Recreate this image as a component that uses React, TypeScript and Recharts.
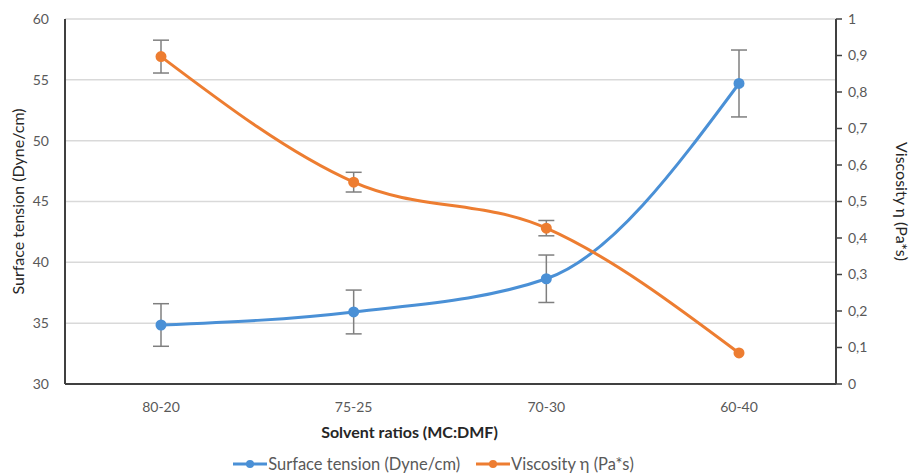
import {
  LineChart, Line, XAxis, YAxis, CartesianGrid,
  ErrorBar, Legend, Label,
} from 'recharts'

const ratios        = ['80-20', '75-25', '70-30', '60-40']
const tension       = [34.85, 35.92, 38.65, 54.7]
const tensionErr    = [1.75, 1.8, 1.95, 2.75]
const viscosity     = [0.897, 0.553, 0.427, 0.085]
const viscosityErr  = [0.045, 0.027, 0.021, 0]
const leftTicks     = [30, 35, 40, 45, 50, 55, 60]
const rightTicks    = [0, 0.1, 0.2, 0.3, 0.4, 0.5, 0.6, 0.7, 0.8, 0.9, 1]

const BLUE   = '#4a90d6'
const ORANGE = '#ed7d31'
const TEXT   = '#595959'
const FONT   = 'Lato, "Open Sans", sans-serif'

const seriesNames = ['Surface tension (Dyne/cm)', 'Viscosity η (Pa*s)']

const data = ratios.map((r, i) => ({
  ratio:   r,
  tension: tension[i],
  tErr:    tensionErr[i],
  visc:    viscosity[i],
  vErr:    viscosityErr[i],
}))

function ChartLegend() {
  const colors = [BLUE, ORANGE]
  return (
    <div style={{ display: 'flex', justifyContent: 'center', gap: 16, fontFamily: FONT, fontSize: 16.5, color: TEXT, marginLeft: -50 }}>
      {seriesNames.map((n, i) => (
        <span key={n} style={{ display: 'flex', alignItems: 'center' }}>
          <svg width={34} height={10} style={{ marginRight: 1 }}>
            <line x1={0} y1={5} x2={34} y2={5} stroke={colors[i]} strokeWidth={3} />
            <circle cx={17} cy={5} r={4} fill={colors[i]} />
          </svg>
          {n}
        </span>
      ))}
    </div>
  )
}

const tick = { fill: TEXT, fontSize: 14, fontFamily: FONT }

export default function App() {
  return (
    <div style={{ position: 'absolute', left: 0, top: 0, background: '#fff' }}>
      <LineChart width={917} height={475} data={data} margin={{ top: 19, right: 21, left: 10, bottom: 61 }}>
        <CartesianGrid yAxisId="left" vertical={false} stroke="#d9d9d9" strokeWidth={1.5} />
        <XAxis
          dataKey="ratio"
          padding={{ left: 96, right: 97 }}
          tick={tick}
          tickLine={false}
          axisLine={{ stroke: '#404040', strokeWidth: 2 }}
          tickMargin={12}
          height={30}
        >
          <Label value="Solvent ratios (MC:DMF)" position="insideBottom" offset={-24} dx={-41}
            style={{ fill: '#262626', fontSize: 16, fontWeight: 700, fontFamily: FONT }} />
        </XAxis>
        <YAxis
          yAxisId="left"
          domain={[30, 60]}
          ticks={leftTicks}
          tick={tick}
          tickLine={false}
          axisLine={{ stroke: '#404040', strokeWidth: 2 }}
          tickMargin={10}
          width={55}
        >
          <Label value="Surface tension  (Dyne/cm)" angle={-90} position="insideLeft" offset={8}
            style={{ textAnchor: 'middle', fill: '#262626', fontSize: 16, fontFamily: FONT }} />
        </YAxis>
        <YAxis
          yAxisId="right"
          orientation="right"
          domain={[0, 1]}
          ticks={rightTicks}
          tick={tick}
          tickFormatter={v => String(v).replace('.', ',')}
          tickLine={{ stroke: '#404040', strokeWidth: 1.5 }}
          tickSize={6}
          axisLine={{ stroke: '#404040', strokeWidth: 2 }}
          tickMargin={6}
          width={60}
        >
          <Label value="Viscosity η (Pa*s)" angle={90} position="insideRight" offset={-6}
            style={{ textAnchor: 'middle', fill: '#262626', fontSize: 16, fontFamily: FONT }} />
        </YAxis>
        <Line
          yAxisId="left"
          type="monotone"
          dataKey="tension"
          stroke={BLUE}
          strokeWidth={3}
          dot={{ r: 4, fill: BLUE, stroke: BLUE }}
          isAnimationActive={false}
        >
          <ErrorBar dataKey="tErr" width={8} stroke="#7f7f7f" strokeWidth={1.5} />
        </Line>
        <Line
          yAxisId="right"
          type="monotone"
          dataKey="visc"
          stroke={ORANGE}
          strokeWidth={3}
          dot={{ r: 4, fill: ORANGE, stroke: ORANGE }}
          isAnimationActive={false}
        >
          <ErrorBar dataKey="vErr" width={8} stroke="#7f7f7f" strokeWidth={1.5} />
        </Line>
        <Legend
          verticalAlign="middle"
          align="center"
          content={<ChartLegend />}
          wrapperStyle={{ top: 454, left: 0, width: 917 }}
        />
      </LineChart>
    </div>
  )
}
